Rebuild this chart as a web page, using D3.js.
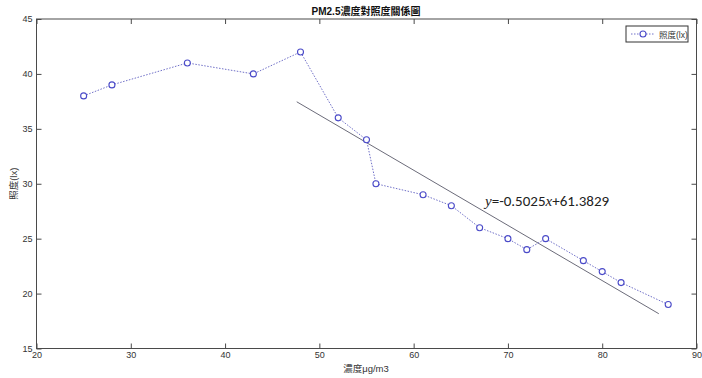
<!DOCTYPE html>
<html>
<head>
<meta charset="utf-8">
<script src="https://cdn.jsdelivr.net/npm/d3@7/dist/d3.min.js"></script>
<style>
  html, body { margin: 0; padding: 0; background: #fff; }
  svg { display: block; }
</style>
</head>
<body>
<svg id="chart" width="702" height="378"></svg>
<script>
// PM2.5 concentration (μg/m3) vs. illuminance (lx)
const pm25 = [25, 28, 36, 43, 48, 52, 55, 56, 61, 64, 67, 70, 72, 74, 78, 80, 82, 87];
const lux  = [38, 39, 41, 40, 42, 36, 34, 30, 29, 28, 26, 25, 24, 25, 23, 22, 21, 19];

// Linear fit y = slope*x + intercept, drawn over this x range
const fitSlope = -0.5025;
const fitIntercept = 61.3829;
const fitRange = [47.6, 86];

const xTicks = [20, 30, 40, 50, 60, 70, 80, 90];
const yTicks = [15, 20, 25, 30, 35, 40, 45];

const titleText = "PM2.5濃度對照度關係圖";
const xLabel = "濃度μg/m3";
const yLabel = "照度(lx)";
const legendLabel = "照度(lx)";

const svg = d3.select("#chart");
const plotLeft = 36.5, plotRight = 696.5, plotTop = 19, plotBottom = 348.5;

const x = d3.scaleLinear().domain([20, 90]).range([plotLeft, plotRight]);
const y = d3.scaleLinear().domain([15, 45]).range([plotBottom, plotTop]);

const axisColor = "#4a4a4a";
const tickFont = "Liberation Sans, Arial, sans-serif";

// plot box
svg.append("rect")
  .attr("x", plotLeft).attr("y", plotTop)
  .attr("width", plotRight - plotLeft).attr("height", plotBottom - plotTop)
  .attr("fill", "#fff").attr("stroke", axisColor).attr("stroke-width", 1);

// axes with inward ticks
const styleAxis = g => {
  g.select(".domain").remove();
  g.selectAll(".tick line").attr("stroke", axisColor);
  g.selectAll(".tick text").attr("fill", "#333")
    .style("font-family", tickFont).style("font-size", "9px");
};
svg.append("g").attr("transform", `translate(0,${plotBottom})`)
  .call(d3.axisBottom(x).tickValues(xTicks).tickSize(-5).tickPadding(3).tickFormat(d3.format("d")))
  .call(styleAxis);
svg.append("g").attr("transform", `translate(0,${plotTop})`)
  .call(d3.axisTop(x).tickValues(xTicks).tickSize(-5).tickFormat(""))
  .call(styleAxis);
svg.append("g").attr("transform", `translate(${plotLeft},0)`)
  .call(d3.axisLeft(y).tickValues(yTicks).tickSize(-5).tickPadding(4).tickFormat(d3.format("d")))
  .call(styleAxis);
svg.append("g").attr("transform", `translate(${plotRight},0)`)
  .call(d3.axisRight(y).tickValues(yTicks).tickSize(-5).tickFormat(""))
  .call(styleAxis);

// fitted line
svg.append("line")
  .attr("x1", x(fitRange[0])).attr("y1", y(fitSlope * fitRange[0] + fitIntercept))
  .attr("x2", x(fitRange[1])).attr("y2", y(fitSlope * fitRange[1] + fitIntercept))
  .attr("stroke", "#5a5a6a").attr("stroke-width", 0.9);

// data series: dotted line with open circles
const pts = pm25.map((d, i) => [d, lux[i]]);
const seriesColor = "#4a4ac8";
svg.append("path")
  .datum(pts)
  .attr("d", d3.line().x(d => x(d[0])).y(d => y(d[1])))
  .attr("fill", "none").attr("stroke", "#7070c8")
  .attr("stroke-width", 1).attr("stroke-dasharray", "1.5,1.5");
svg.selectAll("circle.pt").data(pts).join("circle")
  .attr("class", "pt")
  .attr("cx", d => x(d[0])).attr("cy", d => y(d[1])).attr("r", 3)
  .attr("fill", "#fff").attr("stroke", seriesColor).attr("stroke-width", 1.1);

// equation label
const eq = svg.append("text")
  .attr("x", 485).attr("y", 206)
  .style("font-family", "Carlito, Liberation Sans, sans-serif")
  .style("font-size", "15px").attr("fill", "#222");
eq.append("tspan").text("y").style("font-family", "Liberation Serif, serif").style("font-style", "italic");
eq.append("tspan").text("=-0.5025");
eq.append("tspan").text("x").style("font-family", "Liberation Serif, serif").style("font-style", "italic");
eq.append("tspan").text("+61.3829");

// title and axis labels
svg.append("text").attr("x", 366).attr("y", 15).attr("text-anchor", "middle")
  .style("font-family", "Liberation Sans, Noto Sans CJK TC, sans-serif")
  .style("font-size", "10px").style("font-weight", "bold").attr("fill", "#111")
  .text(titleText);
svg.append("text").attr("x", 366).attr("y", 372).attr("text-anchor", "middle")
  .style("font-family", "Liberation Sans, Noto Sans CJK TC, sans-serif")
  .style("font-size", "9.5px").attr("fill", "#333")
  .text(xLabel);
svg.append("text").attr("transform", `translate(17,${(plotTop + plotBottom) / 2}) rotate(-90)`)
  .attr("text-anchor", "middle")
  .style("font-family", "Liberation Sans, Noto Sans CJK TC, sans-serif")
  .style("font-size", "9.5px").attr("fill", "#333")
  .text(yLabel);

// legend
const lg = svg.append("g").attr("transform", "translate(626,26)");
lg.append("rect").attr("width", 62).attr("height", 16)
  .attr("fill", "#fff").attr("stroke", "#333").attr("stroke-width", 1);
lg.append("line").attr("x1", 5).attr("x2", 29).attr("y1", 8).attr("y2", 8)
  .attr("stroke", "#7070c8").attr("stroke-dasharray", "1.5,1.5");
lg.append("circle").attr("cx", 17).attr("cy", 8).attr("r", 3)
  .attr("fill", "#fff").attr("stroke", seriesColor).attr("stroke-width", 1.1);
lg.append("text").attr("x", 33).attr("y", 11.5)
  .style("font-family", "Liberation Sans, Noto Sans CJK TC, sans-serif")
  .style("font-size", "8.5px").attr("fill", "#333")
  .text(legendLabel);
</script>
</body>
</html>
